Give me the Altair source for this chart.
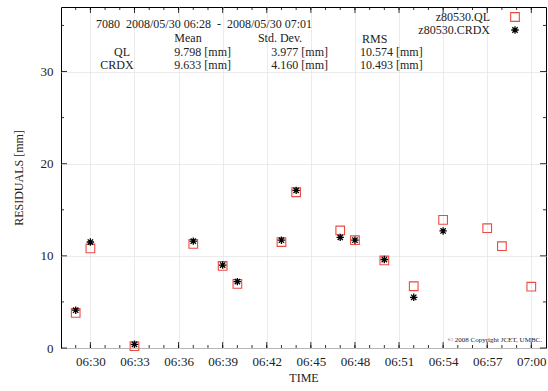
import altair as alt
import pandas as pd

# ---- data ----
times = ["06:29", "06:30", "06:33", "06:37", "06:39", "06:40", "06:43", "06:44",
         "06:47", "06:48", "06:50", "06:52", "06:54", "06:57", "06:58", "07:00"]
ql = [3.8, 10.8, 0.2, 11.3, 8.9, 6.95, 11.5, 16.9, 12.75, 11.7, 9.5, 6.7, 13.9, 13.0, 11.05, 6.65]
crdx = [4.1, 11.5, 0.4, 11.6, 9.0, 7.2, 11.7, 17.1, 12.0, 11.7, 9.6, 5.5, 12.7, None, None, None]

x_major = ["06:30", "06:33", "06:36", "06:39", "06:42", "06:45", "06:48", "06:51", "06:54", "06:57", "07:00"]
x_minor = ["06:%02d" % m for m in range(29, 60)] + ["07:00"]
y_major = [0, 10, 20, 30]
y_minor = [5, 15, 25, 35]
x_range = ["06:28", "07:01"]
y_range = [0, 37]

header = "7080\u00a0\u00a02008/05/30 06:28\u00a0\u00a0-\u00a0\u00a02008/05/30 07:01"
col_heads = ["Mean", "Std. Dev.", "RMS"]
row_heads = ["QL", "CRDX"]
means = ["9.798 [mm]", "9.633 [mm]"]
stds = ["3.977 [mm]", "4.160 [mm]"]
rmss = ["10.574 [mm]", "10.493 [mm]"]
legend_names = ["z80530.QL", "z80530.CRDX"]
copyright_text = "\u00a9 2008 Copyright JCET, UMBC."


def ts(t):
    return "2008-05-30T" + t + ":00"


def dt(t):
    h, m = t.split(":")
    return alt.DateTime(year=2008, month=5, date=30, hours=int(h), minutes=int(m))


df_ql = pd.DataFrame({"time": [ts(t) for t in times], "v": ql})
df_cr = pd.DataFrame({"time": [ts(t) for t in times], "v": crdx}).dropna()

W, H = 485, 341
FONT = "Liberation Serif"
RED = "#ec4b42"
STAR = "M-1,0L1,0M0,-1L0,1M-0.72,-0.72L0.72,0.72M-0.72,0.72L0.72,-0.72"

xscale = alt.Scale(domain=[dt(x_range[0]), dt(x_range[1])])
yscale = alt.Scale(domain=y_range, nice=False)

xenc = alt.X("time:T", scale=xscale,
             axis=alt.Axis(values=[dt(t) for t in x_major], format="%H:%M", title="TIME",
                           ticks=False, labelPadding=7, labelFontSize=13, labelFont=FONT,
                           labelColor="#222", titleFont=FONT, titleFontSize=12,
                           titleFontWeight="normal", titleColor="#222", titlePadding=4,
                           domain=False, grid=True, gridColor="#e6e6e6", gridWidth=0.8,
                           labelFlush=False))
yenc = alt.Y("v:Q", scale=yscale,
             axis=alt.Axis(values=y_major, title="RESIDUALS [mm]", ticks=False,
                           labelPadding=8, labelFontSize=13, labelFont=FONT,
                           labelColor="#222", titleFont=FONT, titleFontSize=12,
                           titleFontWeight="normal", titleColor="#222", titlePadding=15,
                           domain=False, grid=True, gridColor="#e6e6e6", gridWidth=0.8))

ql_layer = alt.Chart(df_ql).mark_point(shape="square", filled=False, color=RED,
                                        size=75, strokeWidth=1.1, opacity=1).encode(x=xenc, y=yenc)
cr_layer = alt.Chart(df_cr).mark_point(shape=STAR, filled=False, color="black",
                                        size=55, strokeWidth=1.3, opacity=1).encode(
    x=alt.X("time:T", scale=xscale), y=alt.Y("v:Q", scale=yscale))


# inward ticks (gnuplot style) on all four sides
def xticks(vals, length):
    d = pd.DataFrame({"time": [ts(t) for t in vals]})
    base = alt.Chart(d).mark_rule(color="black", strokeWidth=0.8)
    bot = base.encode(x=alt.X("time:T", scale=xscale), y=alt.value(H), y2=alt.value(H - length))
    top = base.encode(x=alt.X("time:T", scale=xscale), y=alt.value(0), y2=alt.value(length))
    return [bot, top]


def yticks(vals, length):
    d = pd.DataFrame({"v": vals})
    base = alt.Chart(d).mark_rule(color="black", strokeWidth=0.8)
    left = base.encode(y=alt.Y("v:Q", scale=yscale), x=alt.value(0), x2=alt.value(length))
    right = base.encode(y=alt.Y("v:Q", scale=yscale), x=alt.value(W), x2=alt.value(W - length))
    return [left, right]


tick_layers = xticks(x_minor, 3) + xticks(x_major, 6) + yticks(y_minor, 3) + yticks(y_major, 6)


def txt(s, x, y, align="left", size=12):
    return alt.Chart(pd.DataFrame({"t": [s]})).mark_text(
        font=FONT, fontSize=size, color="#222", align=align, baseline="middle").encode(
        text="t:N", x=alt.value(x), y=alt.value(y))


texts = [
    txt(header, 35, 17),
    txt(col_heads[0], 127, 31, "center"),
    txt(col_heads[1], 219, 31, "center"),
    txt(col_heads[2], 301, 32, "left"),
    txt(row_heads[0], 61, 45, "center"),
    txt(row_heads[1], 56, 57.5, "center"),
    txt(means[0], 170, 45, "right"),
    txt(means[1], 170, 57.5, "right"),
    txt(stds[0], 267, 45, "right"),
    txt(stds[1], 267, 57.5, "right"),
    txt(rmss[0], 299, 45, "left"),
    txt(rmss[1], 299, 57.5, "left"),
    txt(legend_names[0], 429, 10, "right"),
    txt(legend_names[1], 429, 23, "right"),
    txt(copyright_text, 481, 333, "right", 7),
]

leg_sq = alt.Chart(pd.DataFrame({"n": [legend_names[0]]})).mark_point(
    shape="square", filled=False, color=RED, size=75, strokeWidth=1.1, opacity=1).encode(
    x=alt.value(454), y=alt.value(10))
leg_st = alt.Chart(pd.DataFrame({"n": [legend_names[1]]})).mark_point(
    shape=STAR, filled=False, color="black", size=55, strokeWidth=1.3, opacity=1).encode(
    x=alt.value(454), y=alt.value(23))

chart = alt.layer(ql_layer, cr_layer, *tick_layers, *texts, leg_sq, leg_st).properties(
    width=W, height=H,
    autosize=alt.AutoSizeParams(type="none"),
    padding={"left": 61, "top": 7, "right": 2, "bottom": 43},
    background="white",
).configure_view(stroke="black", strokeWidth=1)

chart.save("out.html", embed_options={"renderer": "svg", "actions": False})
